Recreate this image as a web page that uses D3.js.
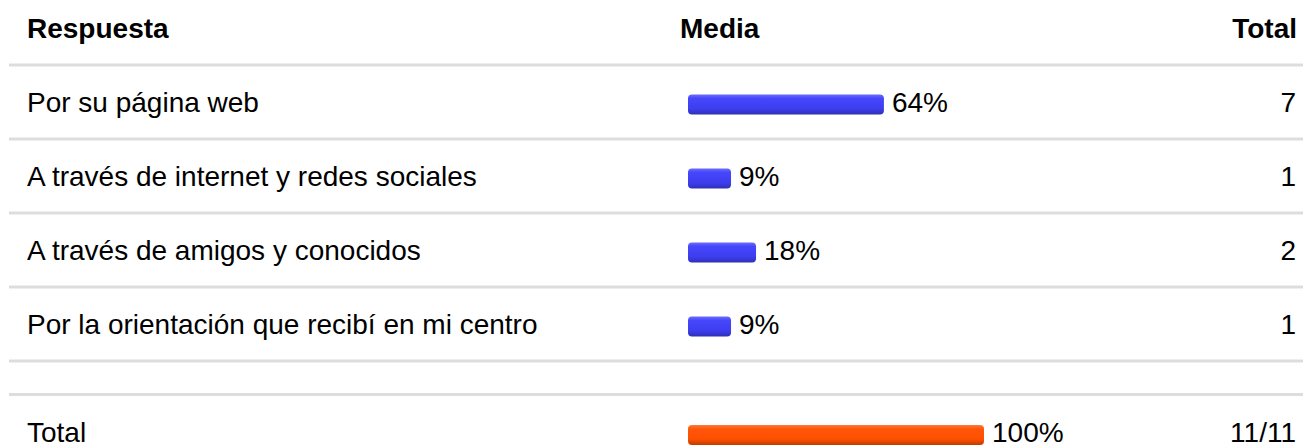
<!DOCTYPE html>
<html>
<head>
<meta charset="utf-8">
<script src="https://cdn.jsdelivr.net/npm/d3@7"></script>
<style>
  html, body { margin: 0; padding: 0; background: #fff; }
  svg { display: block; font-family: "Liberation Sans", Arial, Helvetica, sans-serif; }
</style>
</head>
<body>
<svg id="chart" width="1303" height="448"></svg>
<script>
// Survey answers, their share and their count
const categories = [
  "Por su página web",
  "A través de internet y redes sociales",
  "A través de amigos y conocidos",
  "Por la orientación que recibí en mi centro"
];
const percents = [64, 9, 18, 9];
const counts = [7, 1, 2, 1];
const headers = ["Respuesta", "Media", "Total"];
const totalLabel = "Total";
const totalPercent = 100;
const totalCount = "11/11";

const W = 1303;
const svg = d3.select("#chart");

// Gradients for the bar fills
const defs = svg.append("defs");
function gradient(id, stops) {
  const g = defs.append("linearGradient").attr("id", id)
    .attr("x1", 0).attr("y1", 0).attr("x2", 0).attr("y2", 1);
  stops.forEach(([o, c]) => g.append("stop").attr("offset", o).attr("stop-color", c));
}
gradient("blueBar", [["0", "#6b6bff"], ["0.2", "#4646fb"], ["0.7", "#3e3ef0"], ["1", "#2f2fb8"]]);
gradient("orangeBar", [["0", "#ff7a3a"], ["0.2", "#ff560a"], ["0.7", "#ff5000"], ["1", "#c03c00"]]);

// Row layout
const y = d3.scaleBand().domain(categories).range([65, 361]);
const x = d3.scaleLinear().domain([0, 100]).range([18, 296]);
const barX = 688, barH = 20;
const leftX = 27, mediaX = 680, rightX = 1296;
const fontSize = 28;

// Separator lines
const lineYs = [65, ...categories.map(c => y(c) + y.bandwidth()), 394.5];
svg.append("g").selectAll("line").data(lineYs).join("line")
  .attr("x1", 9).attr("x2", W).attr("y1", d => d).attr("y2", d => d)
  .attr("stroke", "#dddddd").attr("stroke-width", 3);

// Header
const head = svg.append("g").attr("font-weight", "bold").attr("font-size", fontSize).attr("fill", "#000");
head.append("text").attr("x", leftX).attr("y", 28).attr("dy", "0.35em").text(headers[0]);
head.append("text").attr("x", mediaX).attr("y", 28).attr("dy", "0.35em").text(headers[1]);
head.append("text").attr("x", rightX + 1).attr("y", 28).attr("dy", "0.35em").attr("text-anchor", "end").text(headers[2]);

// Data rows
const rows = svg.append("g").selectAll("g").data(categories).join("g")
  .attr("transform", c => `translate(0,${y(c) + y.bandwidth() / 2})`)
  .attr("font-size", fontSize);

rows.append("text").attr("x", leftX).attr("dy", "0.35em").text(c => c);
rows.append("rect")
  .attr("x", barX).attr("y", -barH / 2 + 2.5)
  .attr("width", (c, i) => x(percents[i])).attr("height", barH)
  .attr("rx", 4).attr("fill", "url(#blueBar)");
rows.append("text")
  .attr("x", (c, i) => barX + x(percents[i]) + 8).attr("dy", "0.35em")
  .text((c, i) => percents[i] + "%");
rows.append("text").attr("x", rightX).attr("dy", "0.35em").attr("text-anchor", "end")
  .text((c, i) => counts[i]);

// Total row
const tot = svg.append("g").attr("transform", "translate(0,432.5)").attr("font-size", fontSize);
tot.append("text").attr("x", leftX).attr("dy", "0.35em").text(totalLabel);
tot.append("rect").attr("x", barX).attr("y", -barH / 2 + 2.5)
  .attr("width", x(totalPercent)).attr("height", barH)
  .attr("rx", 4).attr("fill", "url(#orangeBar)");
tot.append("text").attr("x", barX + x(totalPercent) + 8).attr("dy", "0.35em").text(totalPercent + "%");
tot.append("text").attr("x", rightX).attr("dy", "0.35em").attr("text-anchor", "end").text(totalCount);
</script>
</body>
</html>
